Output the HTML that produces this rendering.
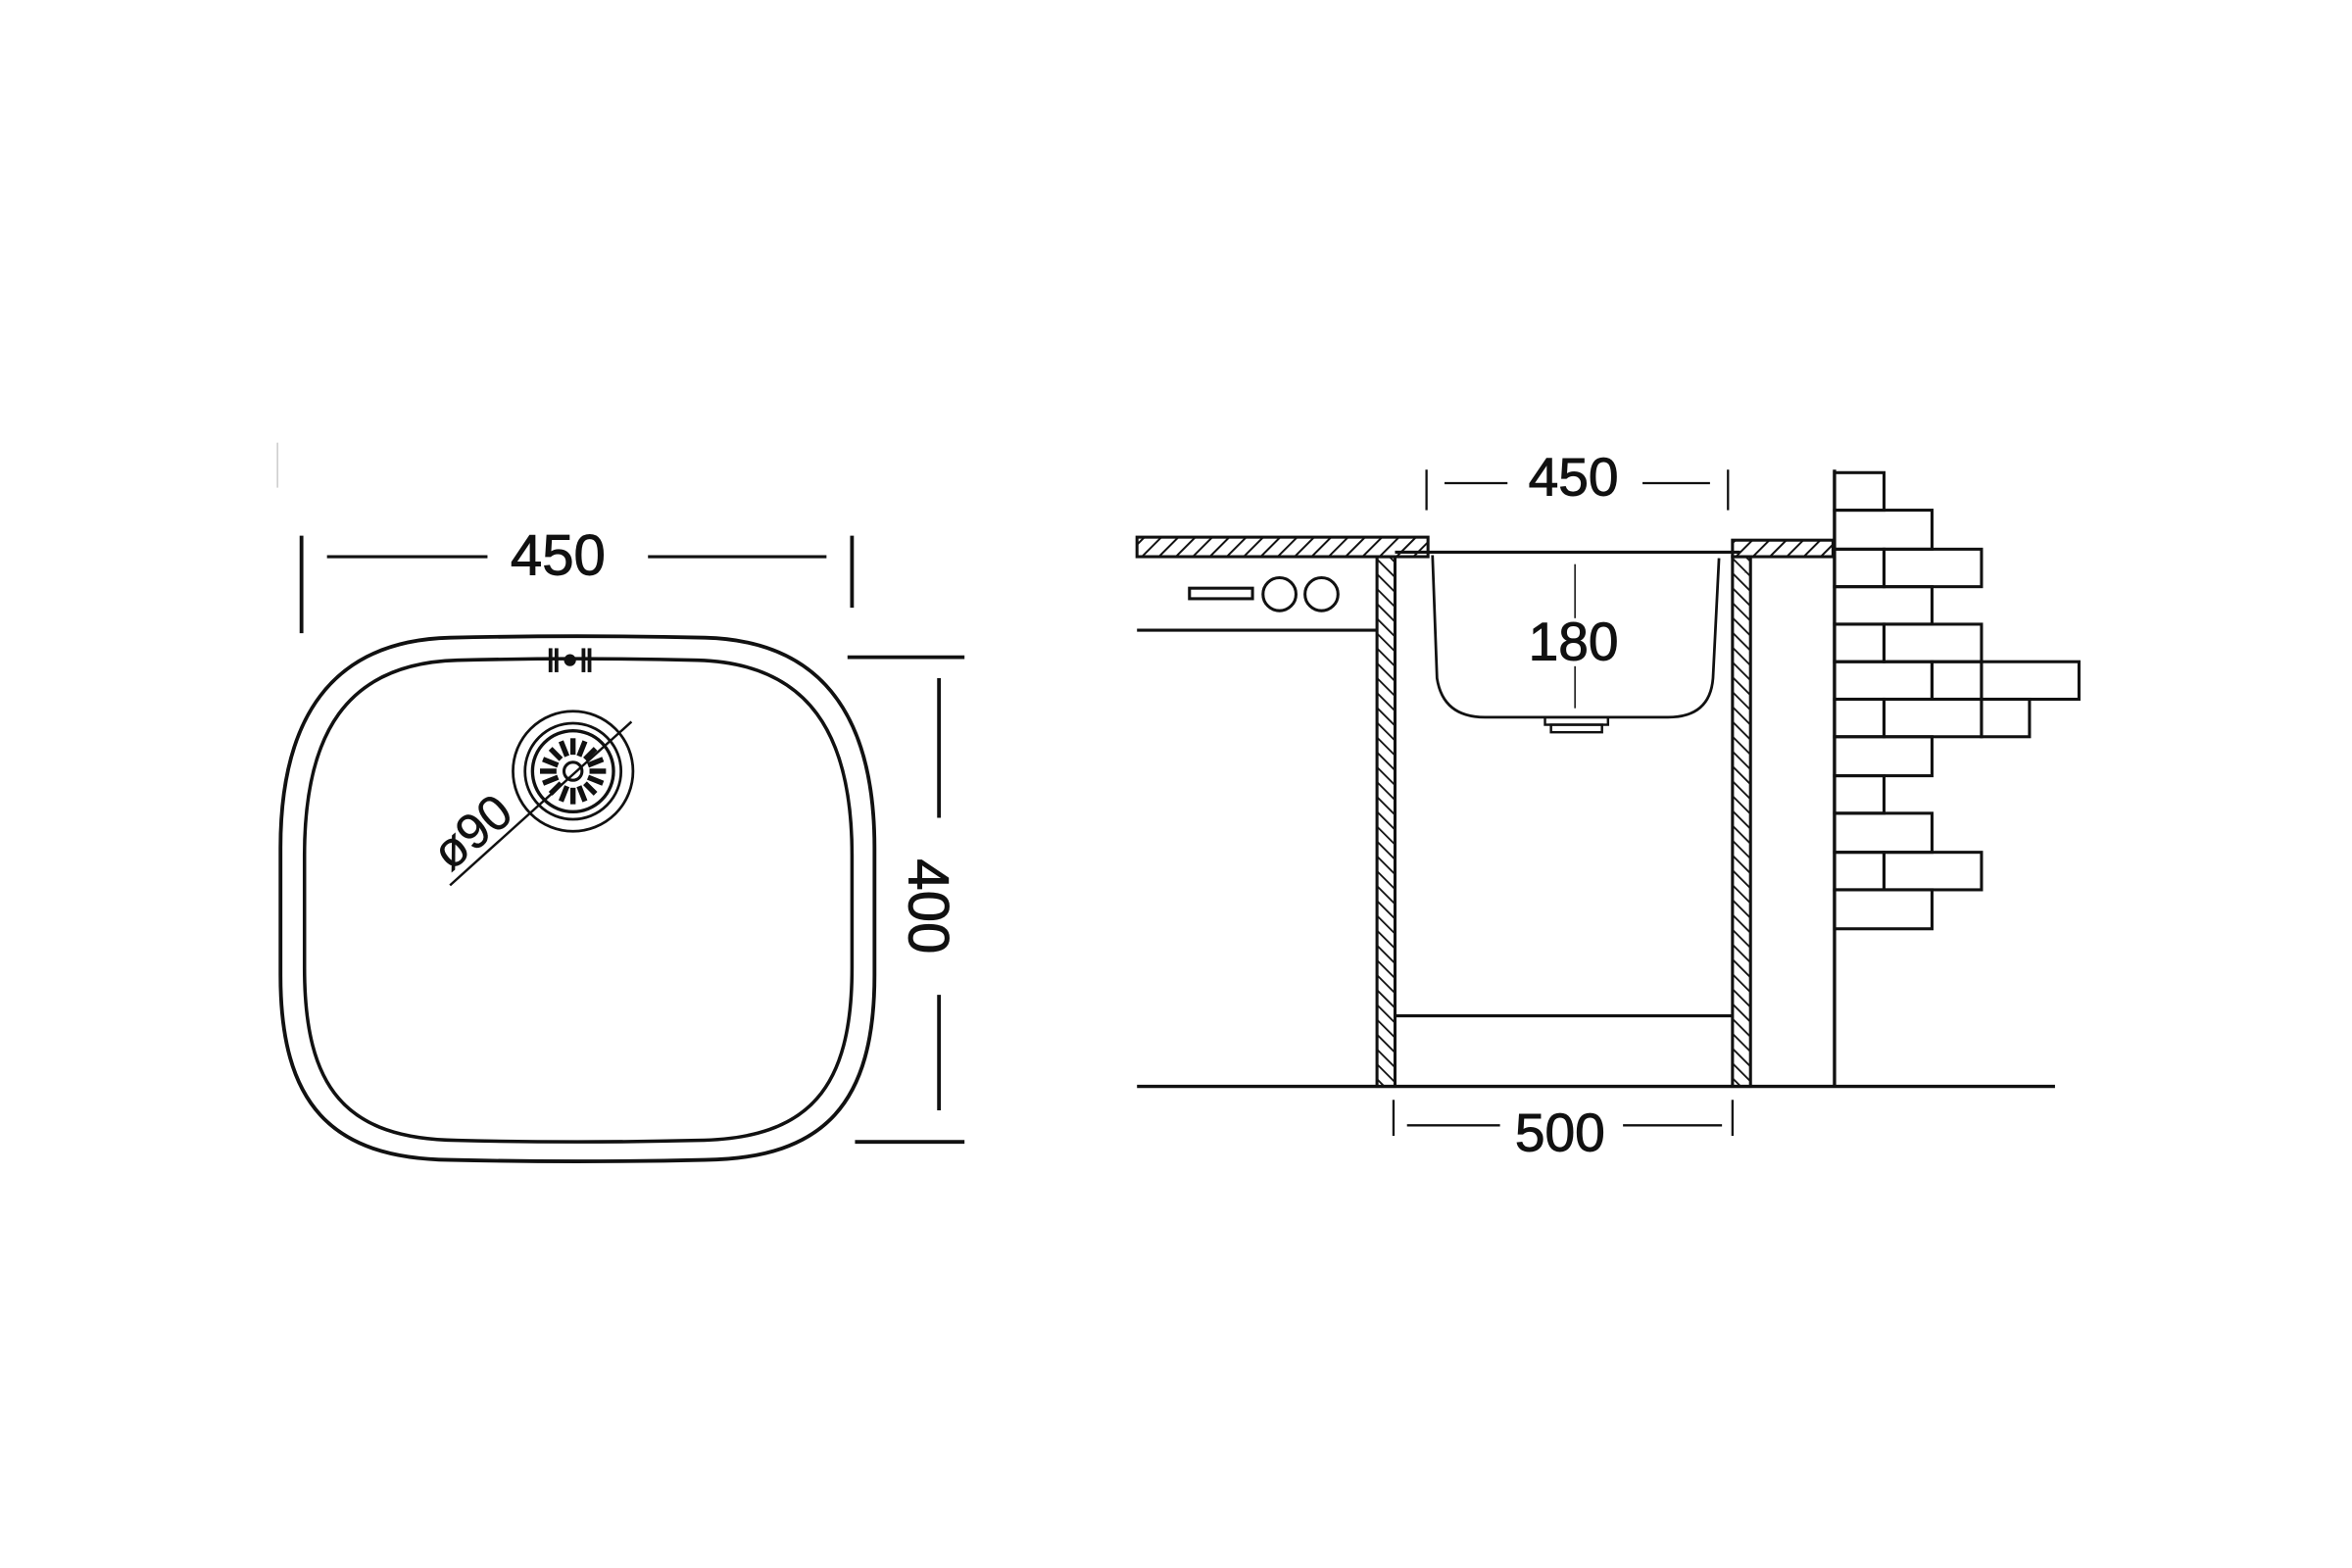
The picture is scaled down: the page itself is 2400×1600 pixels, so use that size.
<!DOCTYPE html>
<html><head><meta charset="utf-8"><style>html,body{margin:0;padding:0;background:#fff}svg{display:block}</style></head>
<body>
<svg width="2400" height="1600" viewBox="0 0 1568 1045" preserveAspectRatio="none" xmlns="http://www.w3.org/2000/svg" font-family="Liberation Sans, sans-serif">
<defs>
<pattern id="h1" patternUnits="userSpaceOnUse" width="8" height="8" patternTransform="rotate(45)"><line x1="0" y1="0" x2="0" y2="8" stroke="#111" stroke-width="2.6"/></pattern>
<pattern id="h2" patternUnits="userSpaceOnUse" width="7" height="7" patternTransform="rotate(-45)"><line x1="0" y1="0" x2="0" y2="7" stroke="#111" stroke-width="2.4"/></pattern>
</defs>
<rect width="1568" height="1045" fill="#fff"/>
<g stroke="#111" fill="none">
<line x1="185" y1="295" x2="185" y2="325" stroke="#ccc" stroke-width="1"/>
<line x1="201" y1="357" x2="201" y2="422" stroke-width="2.5"/>
<line x1="568" y1="357" x2="568" y2="405" stroke-width="2.5"/>
<line x1="218" y1="371" x2="325" y2="371" stroke-width="2"/>
<line x1="432" y1="371" x2="551" y2="371" stroke-width="2"/>
<path d="M300 425 Q385 423 470 425 C550 427 583 480 583 565 L583 650 C583 735 550 772 470 773 Q385 775 300 773 C220 772 187 735 187 650 L187 565 C187 480 220 427 300 425 Z" stroke-width="2.5"/>
<path d="M305 440 Q385 438 465 440 C540 442 568 490 568 570 L568 645 C568 725 540 759 465 760 Q385 762 305 760 C230 759 203 725 203 645 L203 570 C203 490 230 442 305 440 Z" stroke-width="2.3"/>
<g stroke-width="2.5"><line x1="367" y1="432" x2="367" y2="448"/><line x1="371" y1="432" x2="371" y2="448"/><line x1="389" y1="432" x2="389" y2="448"/><line x1="393" y1="432" x2="393" y2="448"/></g>
<circle cx="380" cy="440" r="4" fill="#111" stroke="none"/>
<circle cx="382" cy="514" r="40" stroke-width="1.8"/>
<circle cx="382" cy="514" r="32" stroke-width="1.8"/>
<circle cx="382" cy="514" r="27" stroke-width="2.2"/>
<circle cx="382" cy="514" r="6" stroke-width="2"/>
<g stroke-width="3.5">
<line x1="382" y1="503" x2="382" y2="492"/><line x1="382" y1="525" x2="382" y2="536"/>
<line x1="371" y1="514" x2="360" y2="514"/><line x1="393" y1="514" x2="404" y2="514"/>
<line x1="390" y1="506" x2="397" y2="499"/><line x1="374" y1="522" x2="367" y2="529"/>
<line x1="374" y1="506" x2="367" y2="499"/><line x1="390" y1="522" x2="397" y2="529"/>
<line x1="386" y1="504" x2="390" y2="494"/><line x1="378" y1="524" x2="374" y2="534"/>
<line x1="378" y1="504" x2="374" y2="494"/><line x1="386" y1="524" x2="390" y2="534"/>
<line x1="372" y1="510" x2="362" y2="506"/><line x1="392" y1="518" x2="402" y2="522"/>
<line x1="392" y1="510" x2="402" y2="506"/><line x1="372" y1="518" x2="362" y2="522"/>
</g>
<line x1="421" y1="481" x2="300" y2="590" stroke-width="1.6"/>
<line x1="565" y1="438" x2="643" y2="438" stroke-width="2.5"/>
<line x1="570" y1="761" x2="643" y2="761" stroke-width="2.5"/>
<line x1="626" y1="452" x2="626" y2="545" stroke-width="2.5"/>
<line x1="626" y1="663" x2="626" y2="740" stroke-width="2.5"/>
<rect x="758" y="358" width="194" height="13" fill="url(#h1)" stroke-width="2"/>
<rect x="1155" y="360" width="67" height="11" fill="url(#h1)" stroke-width="2"/>
<rect x="918" y="371" width="12" height="353" fill="url(#h2)" stroke-width="2"/>
<rect x="1155" y="371" width="12" height="353" fill="url(#h2)" stroke-width="2"/>
<line x1="930" y1="368" x2="1160" y2="368" stroke-width="2"/>
<path d="M955 370 L958 452 Q962 478 990 478 L1112 478 Q1140 478 1142 452 L1146 372" stroke-width="1.8"/>
<rect x="1030" y="478" width="42" height="5" stroke-width="1.6"/>
<rect x="1034" y="483" width="34" height="5" stroke-width="1.6"/>
<line x1="1050" y1="376" x2="1050" y2="412" stroke-width="1"/>
<line x1="1050" y1="444" x2="1050" y2="472" stroke-width="1"/>
<line x1="951" y1="313" x2="951" y2="340" stroke-width="1.5"/>
<line x1="1152" y1="313" x2="1152" y2="340" stroke-width="1.5"/>
<line x1="963" y1="322" x2="1005" y2="322" stroke-width="1.5"/>
<line x1="1095" y1="322" x2="1140" y2="322" stroke-width="1.5"/>
<line x1="758" y1="420" x2="918" y2="420" stroke-width="2"/>
<rect x="793" y="392" width="42" height="7" stroke-width="2"/>
<circle cx="853" cy="396" r="11" stroke-width="2"/>
<circle cx="881" cy="396" r="11" stroke-width="2"/>
<line x1="758" y1="724" x2="1370" y2="724" stroke-width="2.2"/>
<line x1="930" y1="677" x2="1155" y2="677" stroke-width="2"/>
<line x1="929" y1="733" x2="929" y2="757" stroke-width="1.5"/>
<line x1="1155" y1="733" x2="1155" y2="757" stroke-width="1.5"/>
<line x1="938" y1="750" x2="1000" y2="750" stroke-width="1.5"/>
<line x1="1082" y1="750" x2="1148" y2="750" stroke-width="1.5"/>
<line x1="1223" y1="313" x2="1223" y2="724" stroke-width="2.2"/>
<g stroke-width="2">
<rect x="1223" y="315" width="33" height="25"/>
<rect x="1223" y="340" width="65" height="26"/>
<rect x="1223" y="366" width="33" height="25"/><rect x="1256" y="366" width="65" height="25"/>
<rect x="1223" y="391" width="65" height="25"/>
<rect x="1223" y="416" width="33" height="25"/><rect x="1256" y="416" width="65" height="25"/>
<rect x="1223" y="441" width="65" height="25"/><rect x="1288" y="441" width="33" height="25"/><rect x="1321" y="441" width="65" height="25"/>
<rect x="1223" y="466" width="33" height="25"/><rect x="1256" y="466" width="65" height="25"/><rect x="1321" y="466" width="32" height="25"/>
<rect x="1223" y="491" width="65" height="26"/>
<rect x="1223" y="517" width="33" height="25"/>
<rect x="1223" y="542" width="65" height="26"/>
<rect x="1223" y="568" width="33" height="25"/><rect x="1256" y="568" width="65" height="25"/>
<rect x="1223" y="593" width="65" height="26"/>
</g>
</g>
<g fill="#111" stroke="#111" stroke-width="0.6" text-anchor="middle">
<text x="372" y="383" font-size="38">450</text>
<text x="0" y="0" font-size="33" stroke-width="0.3" transform="translate(322,563) rotate(-40)">ø90</text>
<text x="0" y="0" font-size="38" transform="translate(606,604) rotate(90)">400</text>
<text x="1049" y="330" font-size="36">450</text>
<text x="1049" y="440" font-size="36">180</text>
<text x="1040" y="767" font-size="36">500</text>
</g>
</svg>
</body></html>
